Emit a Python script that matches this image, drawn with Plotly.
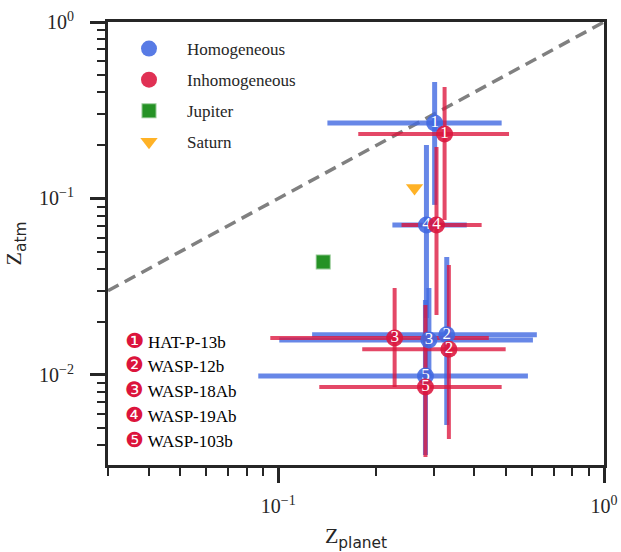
import plotly.graph_objects as go
import numpy as np

# ---- data ----
labels = ["1", "2", "3", "4", "5"]
planet_names = ["HAT-P-13b", "WASP-12b", "WASP-18Ab", "WASP-19Ab", "WASP-103b"]
circled = ["\u2776", "\u2777", "\u2778", "\u2779", "\u277A"]

hom_x = [0.302, 0.329, 0.290, 0.285, 0.283]
hom_x_lo = [0.1415, 0.127, 0.1007, 0.224, 0.0868]
hom_x_hi = [0.485, 0.622, 0.605, 0.379, 0.584]
hom_y = [0.268, 0.0169, 0.0158, 0.0708, 0.00987]
hom_y_lo = [0.092, 0.0052, 0.0098, 0.021, 0.00352]
hom_y_hi = [0.457, 0.0466, 0.0311, 0.201, 0.0266]

inh_x = [0.324, 0.334, 0.2276, 0.306, 0.283]
inh_x_lo = [0.176, 0.181, 0.0945, 0.239, 0.1336]
inh_x_hi = [0.511, 0.499, 0.443, 0.421, 0.485]
inh_y = [0.232, 0.0140, 0.0162, 0.0708, 0.00855]
inh_y_lo = [0.0755, 0.00434, 0.00855, 0.0219, 0.00343]
inh_y_hi = [0.428, 0.042, 0.0311, 0.196, 0.0249]

jupiter_x = [0.1374]
jupiter_y = [0.0437]
saturn_x = [0.262]
saturn_y = [0.1147]

one_to_one = [0.03, 1.0]

x_major = [0.1, 1.0]
x_major_text = ["10<sup>\u22121</sup>", "10<sup>0</sup>"]
y_major = [0.01, 0.1, 1.0]
y_major_text = ["10<sup>\u22122</sup>", "10<sup>\u22121</sup>", "10<sup>0</sup>"]
x_minor = [0.03, 0.04, 0.05, 0.06, 0.07, 0.08, 0.09, 0.2, 0.3, 0.4, 0.5, 0.6, 0.7, 0.8, 0.9]
y_minor = [0.004, 0.005, 0.006, 0.007, 0.008, 0.009,
           0.02, 0.03, 0.04, 0.05, 0.06, 0.07, 0.08, 0.09,
           0.2, 0.3, 0.4, 0.5, 0.6, 0.7, 0.8, 0.9]

BLUE = "rgb(65,105,225)"
RED = "rgb(220,20,60)"
BLUE_A = "rgba(65,105,225,0.8)"
RED_A = "rgba(220,20,60,0.78)"
SERIF = "Liberation Serif, Times New Roman, Times, serif"
INK = "#262626"


def err(center, lo, hi):
    c = np.array(center)
    return dict(type="data", symmetric=False,
                array=list(np.array(hi) - c), arrayminus=list(c - np.array(lo)))


fig = go.Figure()

# 1:1 line
fig.add_trace(go.Scatter(x=one_to_one, y=one_to_one, mode="lines",
                         line=dict(color="rgb(128,128,128)", width=3.5, dash="12px,7px"),
                         showlegend=False, hoverinfo="skip"))

# error bars (blue then red)
for xs, xl, xh, ys, yl, yh, col, w in [
    (hom_x, hom_x_lo, hom_x_hi, hom_y, hom_y_lo, hom_y_hi, BLUE_A, 5),
    (inh_x, inh_x_lo, inh_x_hi, inh_y, inh_y_lo, inh_y_hi, RED_A, 4),
]:
    ex = err(xs, xl, xh); ex.update(color=col, thickness=w, width=0)
    ey = err(ys, yl, yh); ey.update(color=col, thickness=w, width=0)
    fig.add_trace(go.Scatter(x=xs, y=ys, mode="markers", marker=dict(size=1, opacity=0),
                             error_x=ex, error_y=ey, showlegend=False, hoverinfo="skip"))

# markers with numbers
fig.add_trace(go.Scatter(x=hom_x, y=hom_y, mode="markers+text", name="Homogeneous",
                         legendgroup="g1",
                         marker=dict(symbol="circle", size=17, color=BLUE, opacity=0.88,
                                     line=dict(width=0)),
                         text=labels, textposition="middle center",
                         textfont=dict(family=SERIF, size=17, color="white")))
fig.add_trace(go.Scatter(x=inh_x, y=inh_y, mode="markers+text", name="Inhomogeneous",
                         legendgroup="g2",
                         marker=dict(symbol="circle", size=17, color=RED, opacity=0.88,
                                     line=dict(width=0)),
                         text=labels, textposition="middle center",
                         textfont=dict(family=SERIF, size=17, color="white")))
fig.add_trace(go.Scatter(x=jupiter_x, y=jupiter_y, mode="markers", name="Jupiter",
                         legendgroup="g3",
                         marker=dict(symbol="square", size=13, color="green", opacity=0.85,
                                     line=dict(width=2, color="rgba(0,128,0,0.5)"))))
fig.add_trace(go.Scatter(x=saturn_x, y=saturn_y, mode="markers", name="Saturn",
                         legendgroup="g4",
                         marker=dict(symbol="triangle-down", size=15, color="orange", opacity=0.85,
                                     line=dict(width=0))))

# planet key (lower-left)
row_y = [341, 365, 390, 415, 440]
for c, nm, py in zip(circled, planet_names, row_y):
    fig.add_annotation(xref="paper", yref="paper", x=(123 - 108) / 496, y=(465 - py) / 443,
                       xanchor="left", yanchor="middle", showarrow=False,
                       text=f'<span style="color:{RED};font-family:DejaVu Sans;font-size:21px">{c}</span> {nm}',
                       font=dict(family=SERIF, size=17, color="black"))

axis_common = dict(type="log", showline=True, linewidth=3, linecolor=INK, mirror=True,
                   ticks="outside", ticklen=15, tickwidth=2.5, tickcolor=INK,
                   showgrid=False, zeroline=False,
                   tickfont=dict(family=SERIF, size=20, color=INK))

fig.update_xaxes(**axis_common, automargin=False, range=[np.log10(0.03), 0], tickmode="array",
                 tickvals=x_major, ticktext=x_major_text, ticklabelstandoff=6,
                 minor=dict(tickmode="array", tickvals=x_minor, ticks="outside",
                            ticklen=8, tickwidth=2, tickcolor=INK, showgrid=False),
                 title=dict(text='Z<sub><span style="font-family:DejaVu Sans">planet</span></sub>',
                            font=dict(family=SERIF, size=22, color=INK), standoff=16))
fig.update_yaxes(**axis_common, automargin="left", range=[-2.51, 0], tickmode="array",
                 tickvals=y_major, ticktext=y_major_text, ticklabelstandoff=12,
                 minor=dict(tickmode="array", tickvals=y_minor, ticks="outside",
                            ticklen=8, tickwidth=2, tickcolor=INK, showgrid=False),
                 title=dict(text='Z<sub><span style="font-family:DejaVu Sans">atm</span></sub>',
                            font=dict(family=SERIF, size=22, color=INK), standoff=12))

fig.update_layout(width=621, height=552, margin=dict(l=108, r=17, t=22, b=87),
                  paper_bgcolor="white", plot_bgcolor="white",
                  legend=dict(x=3 / 496, y=(465 - 31) / 443, xanchor="left", yanchor="top",
                              bgcolor="rgba(0,0,0,0)", font=dict(family=SERIF, size=17, color=INK),
                              tracegroupgap=6, itemwidth=66),
                  showlegend=True)

fig.write_html("out.html")
